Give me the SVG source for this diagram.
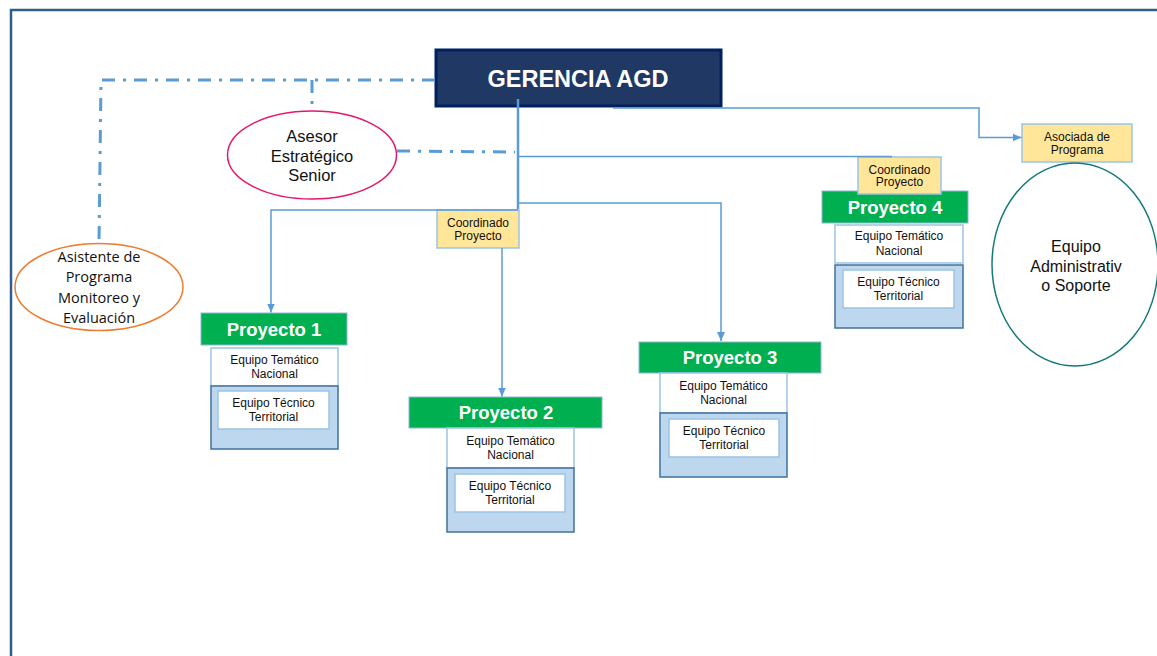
<svg xmlns="http://www.w3.org/2000/svg" width="1157" height="656" viewBox="0 0 1157 656">
  <style>
    .frame { fill: none; stroke: #2E5E8E; stroke-width: 2.5; }
    .t { font-family: "Liberation Sans", Arial, sans-serif; fill: #111; text-anchor: middle; }
    .small { font-size: 12px; }
    .mid { font-size: 16.5px; }
    .hum { font-family: "Open Sans", "Liberation Sans", sans-serif; font-size: 14.5px; fill: #111; text-anchor: middle; }
    .head { fill: #203864; stroke: #002060; stroke-width: 3; }
    .headtxt { font-family: "Liberation Sans", Arial, sans-serif; font-weight: bold; font-size: 23.5px; fill: #fff; text-anchor: middle; }
    .green { fill: #00B050; stroke: #8FB4DA; stroke-width: 1; }
    .gtxt { font-family: "Liberation Sans", Arial, sans-serif; font-weight: bold; font-size: 18.5px; fill: #fff; text-anchor: middle; }
    .white { fill: #fff; stroke: #9DC3E6; stroke-width: 1.5; }
    .team { fill: #BDD7EE; stroke: #41719C; stroke-width: 1.5; }
    .yellow { fill: #FFE699; stroke: #9DC3E6; stroke-width: 1.5; }
    .conn { fill: none; stroke: #5B9BD5; stroke-width: 1.5; }
    .trunk { fill: none; stroke: #5B9BD5; stroke-width: 2.5; }
    .dashdot { fill: none; stroke: #5B9BD5; stroke-width: 3; stroke-dasharray: 13 8 3 8; }
  </style>
  <defs>
    <marker id="arrow" markerUnits="userSpaceOnUse" markerWidth="10" markerHeight="10" viewBox="0 0 10 10" refX="9" refY="5" orient="auto">
      <path d="M0,1 L9,5 L0,9 Z" fill="#5B9BD5"/>
    </marker>
  </defs>

  <rect width="1157" height="656" fill="#fff"/>
  <!-- outer frame, open to the right and bottom -->
  <rect class="frame" x="11" y="10" width="1170" height="680"/>

  <g id="gerencia">
    <rect class="head" x="436" y="50" width="285" height="56"/>
    <text class="headtxt" x="578" y="87">GERENCIA AGD</text>
  </g>

  <g id="asesor">
    <ellipse cx="312" cy="155" rx="84.5" ry="44" fill="#fff" stroke="#E5176B" stroke-width="1.5"/>
    <text class="t mid" x="312" y="142">Asesor</text>
    <text class="t mid" x="312" y="162">Estratégico</text>
    <text class="t mid" x="312" y="181">Senior</text>
  </g>

  <g id="asistente">
    <ellipse cx="99" cy="287" rx="84" ry="43.5" fill="#fff" stroke="#ED7D31" stroke-width="1.5"/>
    <text class="hum" x="99" y="262">Asistente de</text>
    <text class="hum" x="99" y="282">Programa</text>
    <text class="hum" x="99" y="303">Monitoreo y</text>
    <text class="hum" x="99" y="323">Evaluación</text>
  </g>

  <g id="coord-p2">
    <rect class="yellow" x="437" y="210" width="82" height="38"/>
    <text class="t small" x="478" y="227">Coordinado</text>
    <text class="t small" x="478" y="240">Proyecto</text>
  </g>

  <g id="proyecto-1">
    <rect class="green" x="201" y="313" width="146" height="32"/>
    <text class="gtxt" x="274" y="335.5">Proyecto 1</text>
    <rect class="white" x="211" y="348" width="127" height="38"/>
    <text class="t small" x="274.5" y="363.5">Equipo Temático</text>
    <text class="t small" x="274.5" y="378">Nacional</text>
    <rect class="team" x="211" y="386" width="127" height="63"/>
    <rect class="white" x="218" y="391" width="111" height="38"/>
    <text class="t small" x="273.5" y="406.5">Equipo Técnico</text>
    <text class="t small" x="273.5" y="421">Territorial</text>
  </g>

  <g id="proyecto-2">
    <rect class="green" x="409" y="397" width="193" height="31"/>
    <text class="gtxt" x="506" y="419">Proyecto 2</text>
    <rect class="white" x="447" y="428" width="127" height="40"/>
    <text class="t small" x="510.5" y="444.5">Equipo Temático</text>
    <text class="t small" x="510.5" y="459">Nacional</text>
    <rect class="team" x="447" y="468" width="127" height="64"/>
    <rect class="white" x="455" y="474" width="110" height="38"/>
    <text class="t small" x="510" y="489.5">Equipo Técnico</text>
    <text class="t small" x="510" y="504">Territorial</text>
  </g>

  <g id="proyecto-3">
    <rect class="green" x="639" y="342" width="182" height="31"/>
    <text class="gtxt" x="730" y="364">Proyecto 3</text>
    <rect class="white" x="660" y="373" width="127" height="40"/>
    <text class="t small" x="723.5" y="389.5">Equipo Temático</text>
    <text class="t small" x="723.5" y="404">Nacional</text>
    <rect class="team" x="660" y="413" width="127" height="64"/>
    <rect class="white" x="669" y="419" width="110" height="38"/>
    <text class="t small" x="724" y="434.5">Equipo Técnico</text>
    <text class="t small" x="724" y="449">Territorial</text>
  </g>

  <g id="proyecto-4">
    <rect class="green" x="822" y="191" width="146" height="32"/>
    <text class="gtxt" x="895" y="213.5">Proyecto 4</text>
    <rect class="white" x="835" y="225" width="128" height="38"/>
    <text class="t small" x="899" y="240">Equipo Temático</text>
    <text class="t small" x="899" y="254.5">Nacional</text>
    <rect class="team" x="835" y="265" width="128" height="63"/>
    <rect class="white" x="843" y="270" width="111" height="38"/>
    <text class="t small" x="898.5" y="285.5">Equipo Técnico</text>
    <text class="t small" x="898.5" y="300">Territorial</text>
  </g>

  <g id="coord-p4">
    <rect class="yellow" x="858" y="157" width="83" height="37"/>
    <text class="t small" x="899.5" y="173.5">Coordinado</text>
    <text class="t small" x="899.5" y="186">Proyecto</text>
  </g>

  <g id="asociada">
    <rect class="yellow" x="1022" y="124" width="110" height="38"/>
    <text class="t small" x="1077" y="140.5">Asociada de</text>
    <text class="t small" x="1077" y="154">Programa</text>
  </g>

  <g id="administrativo">
    <ellipse cx="1075" cy="264.5" rx="83" ry="101.5" fill="#fff" stroke="#137A7A" stroke-width="1.5"/>
    <text class="t" font-size="16px" x="1076" y="252">Equipo</text>
    <text class="t" font-size="16px" x="1076" y="272">Administrativ</text>
    <text class="t" font-size="16px" x="1076" y="290.5">o Soporte</text>
  </g>

  <g id="connectors">
    <!-- staff lines (dash-dot) -->
    <path class="dashdot" d="M435,80 L101,80 L99,243"/>
    <path class="dashdot" d="M312,80 L312,111"/>
    <path class="dashdot" d="M397,151 L515,152"/>
    <!-- main trunk -->
    <path class="trunk" d="M518,99 L518,209"/>
    <path class="conn" d="M518,156.5 L892,156.5"/>
    <path class="conn" d="M518,203 L721,203 L721,341" marker-end="url(#arrow)"/>
    <path class="conn" d="M518,210 L271,210 L271,312.5" marker-end="url(#arrow)"/>
    <path class="conn" d="M502,248 L502,396.5" marker-end="url(#arrow)"/>
    <path class="conn" d="M613,108 L979,108 L979,137.5 L1021.5,137.5" marker-end="url(#arrow)"/>
  </g>
</svg>
